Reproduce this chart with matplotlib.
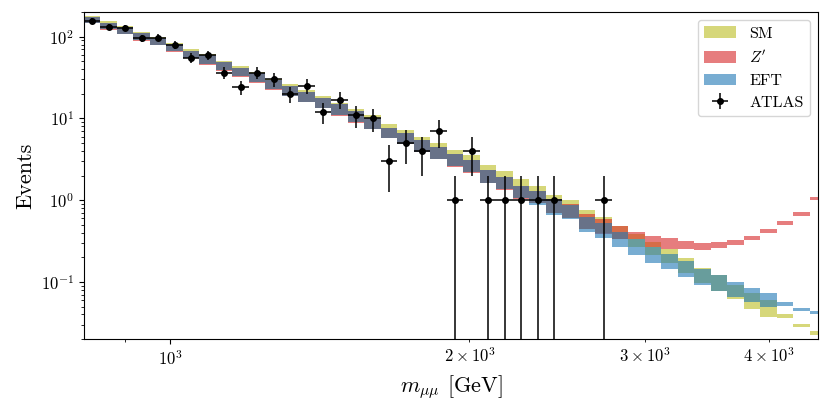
import matplotlib

matplotlib.use("Agg")
import matplotlib.pyplot as plt
import numpy as np

plt.rcParams["font.family"] = "serif"
plt.rcParams["font.serif"] = ["cmr10"]
plt.rcParams["mathtext.fontset"] = "cm"
plt.rcParams["axes.formatter.use_mathtext"] = True
plt.rcParams["axes.unicode_minus"] = False

# log-spaced mass bins [GeV]
edges = np.geomspace(818.6, 4571.0, 46)
x_range = (818.6, 4483.0)

sm_hi = [180, 154, 135, 115, 99, 83, 71, 61.5, 51, 43.5, 36.7, 30.5, 26, 22, 18.7,
         15.4, 12.9, 10.9, 8.6, 7.3, 6.0, 5.06, 4.07, 3.54, 2.67, 2.26, 1.79, 1.50,
         1.17, 1.00, 0.748, 0.626, 0.482, 0.385, 0.310, 0.250, 0.198, 0.1495,
         0.1206, 0.0919, 0.0727, 0.0603, 0.0400, 0.0307, 0.0248]
sm_lo = [147, 124, 108, 91, 79, 66, 55, 46, 39, 33, 27.7, 22.6, 19, 16, 13.5,
         10.9, 9.0, 7.5, 5.8, 4.9, 3.9, 3.2, 2.6, 2.2, 1.63, 1.35, 1.05, 0.91,
         0.69, 0.598, 0.439, 0.392, 0.331, 0.270, 0.2135, 0.169, 0.130, 0.098,
         0.0784, 0.0614, 0.0469, 0.0371, 0.0360, 0.0277, 0.0224]

zp_hi = [175, 148, 132, 112, 96, 81.5, 67, 60, 48.6, 41.5, 35.7, 29.6, 25, 21, 17.7,
         14.8, 12.3, 10.2, 7.7, 6.6, 5.4, 4.47, 3.64, 3.13, 2.32, 1.92, 1.50, 1.30,
         1.02, 0.894, 0.669, 0.581, 0.482, 0.411, 0.364, 0.341, 0.316, 0.296,
         0.305, 0.325, 0.364, 0.443, 0.549, 0.721, 1.10]
zp_lo = [145, 122, 106.5, 89.5, 78, 65, 54, 45.3, 38.4, 32.5, 27.3, 22.3, 18.7,
         15.8, 13.3, 10.7, 8.87, 7.39, 5.71, 4.83, 3.84, 3.15, 2.56, 2.17, 1.61,
         1.33, 1.03, 0.91, 0.69, 0.598, 0.439, 0.385, 0.331, 0.331, 0.270, 0.250,
         0.250, 0.2455, 0.262, 0.283, 0.325, 0.400, 0.491, 0.644, 0.99]

eft_hi = [175, 148, 132, 112, 96, 81.5, 67, 60, 48.6, 41.5, 35.7, 29.6, 25, 21, 17.7,
          14.8, 12.3, 10.2, 7.7, 6.6, 5.4, 4.47, 3.64, 3.13, 2.32, 1.92, 1.50, 1.30,
          1.02, 0.869, 0.626, 0.529, 0.411, 0.331, 0.270, 0.2195, 0.180, 0.1427,
          0.1206, 0.100, 0.0837, 0.0727, 0.0560, 0.0486, 0.0443]
eft_lo = [147, 124, 108, 91, 79, 66, 55, 46, 39, 33, 27.7, 22.6, 19, 16, 13.5,
          10.9, 9.0, 7.5, 5.8, 4.9, 3.9, 3.2, 2.6, 2.2, 1.63, 1.35, 1.05, 0.87,
          0.66, 0.581, 0.411, 0.341, 0.265, 0.2135, 0.172, 0.1427, 0.114, 0.0919,
          0.0784, 0.0662, 0.0560, 0.0500, 0.0510, 0.0435, 0.0400]

atlas_counts = [157, 132, 128, 96, 97, 80, 55, 59, 36, 24, 36, 30, 20, 25, 12, 17,
                11, 10, 3, 5, 4, 7, 1, 4, 1, 1, 1, 1, 1, 0, 0, 1, 0, 0, 0, 0, 0,
                0, 0, 0, 0, 0, 0, 0, 0]

fig = plt.figure(figsize=(8.3, 4.09), dpi=100)
ax = fig.add_axes([0.101, 0.171, 0.8845, 0.7997])

ax.stairs(sm_hi, edges, baseline=sm_lo, fill=True, color="tab:olive",
          alpha=0.6, lw=0, label="SM")
ax.stairs(zp_hi, edges, baseline=zp_lo, fill=True, color="tab:red",
          alpha=0.6, lw=0, label="$Z'$")
ax.stairs(eft_hi, edges, baseline=eft_lo, fill=True, color="tab:blue",
          alpha=0.6, lw=0, label="EFT")

counts = np.array(atlas_counts, dtype=float)
centers = np.sqrt(edges[:-1] * edges[1:])
has = counts > 0
xerr = [(centers - edges[:-1])[has], (edges[1:] - centers)[has]]
ax.errorbar(centers[has], counts[has], xerr=xerr, yerr=np.sqrt(counts[has]),
            fmt="o", color="black", markersize=4, elinewidth=1.1, label="ATLAS")

ax.set_xscale("log")
ax.set_yscale("log")
ax.set_xlim(*x_range)
ax.set_ylim(0.02, 200)
ax.set_xlabel(r"$m_{\mu\mu}$ [GeV]", fontsize=16)
ax.set_ylabel("Events", fontsize=16)
ax.tick_params(which="both", labelsize=12)
ax.legend(loc="upper right", fontsize=11.5)

fig.savefig("out.png", dpi=100)
